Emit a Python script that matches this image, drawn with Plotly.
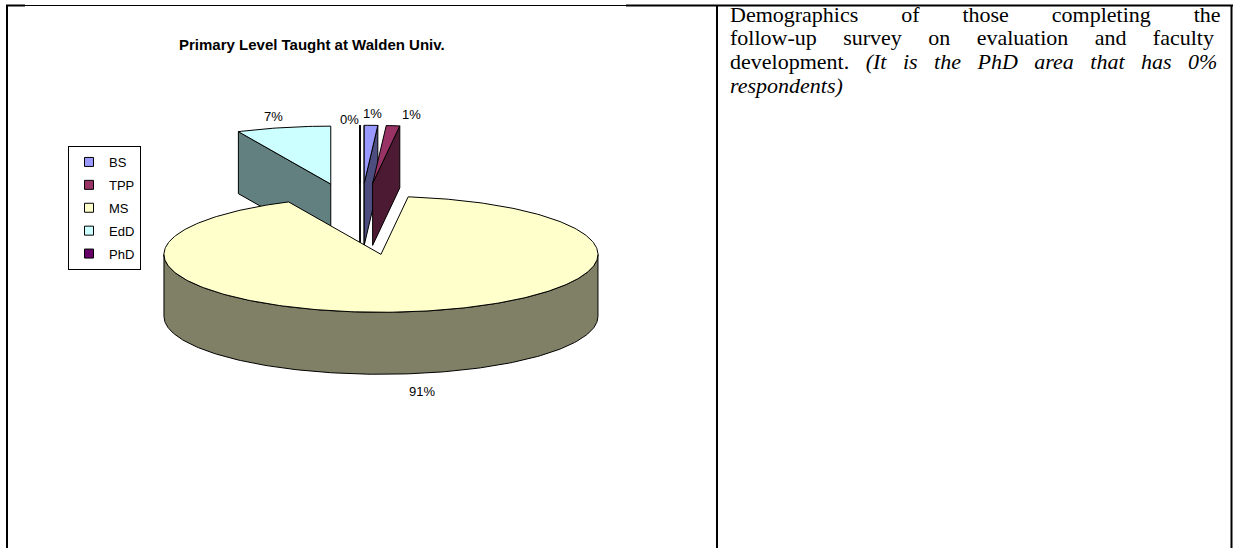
import numpy as np
import plotly.graph_objects as go

# ---------------- data ----------------
categories = ["BS", "TPP", "MS", "EdD", "PhD"]
values = [1, 1, 91, 7, 0]
top_colors = ["#9999FF", "#993366", "#FFFFCC", "#CCFFFF", "#660066"]
side_colors = ["#4D4D80", "#4D1A33", "#808066", "#628080", "#330033"]
title_text = "Primary Level Taught at Walden Univ."
side_lines = [
    "Demographics of those completing the",
    "follow-up survey on evaluation and faculty",
    "development. <i>(It is the PhD area that has 0%</i>",
    "<i>respondents)</i>",
]

# ---------------- style / geometry params ----------------
W, H = 1233, 548
PX = 217.0             # pixels per pie radius
CX, CY = 360.0, 219.0  # pixel position of pie centre
K = 0.267              # tilt (vertical squash)
DEPTH = 62 / PX        # thickness
EXPLODE = 0.6175       # explosion distance (radius units)
LABEL_R = 1.2
label_shift = {"TPP": (14, 0), "PhD": (-11, -6), "MS": (0, -6)}
FONT = "Liberation Sans"
NB = "\u00a0"
THIN = "\u2009"
HAIR = "\u200a"
# extra spacing inserted in each gap to emulate justified text
line_gap_extra = [NB * 6 + THIN, NB * 3 + THIN, NB * 2, ""]

total = float(sum(values))
angles = []
acc = 0.0
for v in values:
    a0 = acc
    acc += v / total * 360.0
    angles.append((a0, acc))


def pt(theta, r, z, mid):
    t = np.radians(theta)
    m = np.radians(mid)
    x = EXPLODE * np.sin(m) + r * np.sin(t)
    y = K * (EXPLODE * np.cos(m) + r * np.cos(t)) + z
    return x, y


def arc(a0, a1, z, mid):
    n = max(2, int(abs(a1 - a0)) + 2)
    th = np.linspace(a0, a1, n)
    return pt(th, 1.0, z, mid)


fig = go.Figure()


def poly(xs, ys, color):
    xs = list(xs) + [xs[0]]
    ys = list(ys) + [ys[0]]
    fig.add_trace(go.Scatter(
        x=xs, y=ys, mode="lines", fill="toself", fillcolor=color,
        line=dict(color="#000000", width=1), showlegend=False,
        hoverinfo="skip"))


# drawing order: back to front
order = sorted(range(len(values)),
               key=lambda i: -np.cos(np.radians(sum(angles[i]) / 2)))

annotations = []
for i in order:
    a0, a1 = angles[i]
    mid = (a0 + a1) / 2
    side = side_colors[i]
    cx0, cy0 = pt(0, 0, 0, mid)
    cx1, cy1 = pt(0, 0, -DEPTH, mid)
    # radial face at start angle
    if np.sin(np.radians(a0)) < 1e-9:
        ox0, oy0 = pt(a0, 1, 0, mid)
        ox1, oy1 = pt(a0, 1, -DEPTH, mid)
        poly([cx0, ox0, ox1, cx1], [cy0, oy0, oy1, cy1], side)
    # radial face at end angle
    if -np.sin(np.radians(a1)) < -1e-9 or (a1 - a0) == 0:
        ox0, oy0 = pt(a1, 1, 0, mid)
        ox1, oy1 = pt(a1, 1, -DEPTH, mid)
        poly([cx0, ox0, ox1, cx1], [cy0, oy0, oy1, cy1], side)
    # outer curved side (front half only)
    b0, b1 = max(a0, 90.0), min(a1, 270.0)
    if b1 > b0:
        tx, ty = arc(b0, b1, 0, mid)
        bx, by = arc(b1, b0, -DEPTH, mid)
        poly(np.concatenate([tx, bx]), np.concatenate([ty, by]), side)
    # top face
    ax, ay = arc(a0, a1, 0, mid)
    poly(np.concatenate([[cx0], ax]), np.concatenate([[cy0], ay]), top_colors[i])

    # data label
    front = np.cos(np.radians(mid)) < 0
    lx, ly = pt(mid, LABEL_R, -DEPTH if front else 0, mid)
    dx, dy = label_shift.get(categories[i], (0, 0))
    annotations.append(dict(
        x=lx, y=ly, xref="x", yref="y", text=f"{round(values[i] / total * 100)}%",
        showarrow=False, xshift=dx, yshift=dy, xanchor="center", yanchor="middle",
        font=dict(family=FONT, size=13, color="black")))

# legend entries
for i, c in enumerate(categories):
    fig.add_trace(go.Scatter(
        x=[None], y=[None], mode="markers", name=c, legendgroup=c,
        marker=dict(symbol="square", size=9, color=top_colors[i],
                    line=dict(color="#000000", width=1))))

# title
annotations.append(dict(
    x=312 / W, y=1 - 45 / H, xref="paper", yref="paper", text="<b>" + title_text + "</b>",
    showarrow=False, xanchor="center", yanchor="middle",
    font=dict(family=FONT, size=15, color="black")))

# right-hand cell text (justified by padding the gaps)
line_y = [14, 38, 61.5, 85]
for t, yy, g in zip(side_lines, line_y, line_gap_extra):
    annotations.append(dict(
        x=728 / W, y=1 - yy / H, xref="paper", yref="paper", text=t.replace(" ", " " + g),
        xanchor="left", yanchor="middle", showarrow=False,
        font=dict(family="Liberation Serif", size=22, color="black")))


# table borders
def hline(x0, x1, y, w):
    return dict(type="line", xref="paper", yref="paper", x0=x0 / W, x1=x1 / W,
                y0=1 - y / H, y1=1 - y / H, line=dict(color="black", width=w))


def vline(x, y0, y1, w):
    return dict(type="line", xref="paper", yref="paper", x0=x / W, x1=x / W,
                y0=1 - y0 / H, y1=1 - y1 / H, line=dict(color="black", width=w))


shapes = [
    hline(6, 25, 5.5, 2), hline(25, 626, 5.5, 1), hline(626, 1233, 5.5, 2),
    vline(7, 5, H, 2), vline(717, 5, H, 2), vline(1231.5, 5, H, 2),
]

fig.update_layout(
    width=W, height=H, margin=dict(l=0, r=0, t=0, b=0),
    paper_bgcolor="white", plot_bgcolor="rgba(0,0,0,0)",
    xaxis=dict(range=[-CX / PX, (W - CX) / PX], visible=False, fixedrange=True),
    yaxis=dict(range=[-(H - CY) / PX, CY / PX], visible=False, fixedrange=True),
    showlegend=True,
    legend=dict(x=68 / W, y=1 - 146 / H, xanchor="left", yanchor="top",
                bgcolor="white", bordercolor="black", borderwidth=1,
                font=dict(family=FONT, size=13, color="black"),
                traceorder="grouped", tracegroupgap=3, itemwidth=30),
    annotations=annotations, shapes=shapes,
)

fig.write_html("out.html", config={"displayModeBar": False},
               post_script="document.body.style.margin='0px';document.body.style.overflow='hidden';")
